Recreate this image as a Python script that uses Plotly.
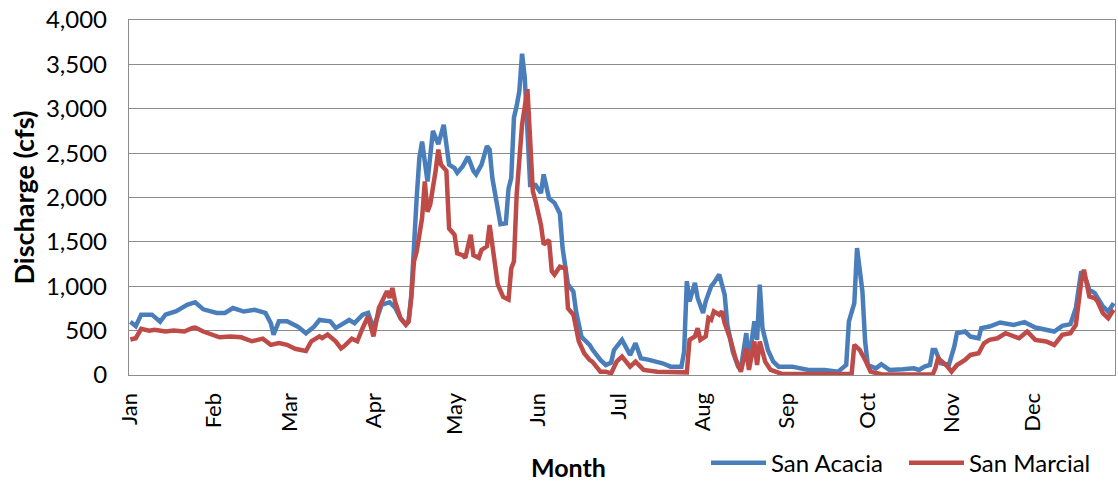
import pandas as pd
import plotly.graph_objects as go

# ---- data (day of year index, discharge cfs) ----
acacia_day = [0, 2, 4, 8, 11, 13, 17, 21, 24, 27, 32, 35, 38, 42, 46, 50, 52, 53, 55, 58,
              62, 65, 68, 70, 74, 76, 78, 81, 83, 86, 88, 90, 93, 96, 98, 100, 102, 103, 104, 105,
              106, 107, 108, 110, 112, 114, 116, 118, 120, 121, 123, 125, 127, 128, 130, 132, 133, 134, 136, 137,
              139, 140, 141, 142, 143, 144, 145, 146, 147, 148, 150, 152, 153, 155, 157, 159, 160, 161, 162, 164,
              165, 167, 170, 171, 174, 176, 178, 179, 182, 184, 185, 187, 189, 192, 197, 200, 204, 205, 206, 207,
              209, 210, 212, 213, 215, 216, 218, 220, 221, 223, 225, 226, 228, 229, 231, 232, 233, 234, 236, 238,
              240, 245, 251, 257, 262, 265, 266, 268, 269, 271, 272, 273, 276, 278, 281, 286, 290, 292, 294, 296,
              297, 298, 300, 303, 305, 306, 309, 311, 314, 315, 318, 322, 327, 331, 335, 342, 345, 348, 350, 352,
              354, 355, 357, 360, 362, 364]
acacia_cfs = [600, 550, 680, 680, 600, 680, 720, 790, 820, 740, 700, 700, 755, 715, 735, 700, 585, 455, 605, 605,
              545, 470, 545, 620, 605, 530, 565, 620, 585, 680, 700, 530, 790, 820, 760, 640, 570, 610, 900, 1500,
              2000, 2450, 2630, 2180, 2750, 2600, 2820, 2370, 2330, 2280, 2350, 2460, 2300, 2260, 2370, 2580, 2540, 2220, 1840, 1700,
              1710, 2100, 2220, 2900, 3030, 3200, 3620, 3350, 2750, 2140, 2140, 2050, 2260, 1990, 1940, 1820, 1430, 1240, 1020, 940,
              715, 430, 340, 290, 170, 113, 140, 280, 396, 283, 226, 358, 189, 170, 132, 94, 94, 264, 1057, 830,
              1038, 868, 698, 830, 1000, 1038, 1132, 906, 566, 264, 94, 75, 472, 151, 604, 396, 1019, 528, 283, 151,
              94, 94, 57, 57, 38, 113, 604, 810, 1430, 942, 377, 113, 75, 121, 57, 64, 75, 57, 94, 113,
              283, 283, 132, 113, 320, 471, 490, 433, 414, 528, 546, 592, 565, 595, 535, 490, 554, 573, 754, 1168,
              1055, 961, 923, 772, 716, 810]

marcial_day = [0, 2, 4, 7, 9, 13, 16, 20, 23, 24, 27, 30, 33, 37, 41, 45, 49, 52, 55, 58,
               61, 65, 67, 70, 71, 73, 76, 78, 79, 82, 84, 86, 88, 90, 92, 95, 96, 97, 98, 100,
               102, 103, 104, 105, 106, 108, 109, 110, 111, 113, 114, 115, 117, 118, 120, 121, 123, 124, 126, 127,
               129, 130, 132, 133, 134, 136, 138, 140, 141, 142, 143, 145, 147, 148, 149, 150, 152, 153, 155, 156,
               157, 159, 161, 162, 164, 166, 168, 170, 171, 173, 174, 176, 178, 180, 182, 185, 187, 190, 195, 206,
               207, 209, 210, 211, 213, 214, 215, 216, 218, 219, 220, 222, 224, 226, 228, 229, 231, 232, 233, 235,
               237, 241, 262, 264, 267, 268, 270, 272, 274, 278, 297, 298, 299, 302, 304, 306, 309, 311, 314, 316,
               318, 321, 324, 329, 332, 335, 339, 342, 345, 348, 350, 352, 353, 355, 357, 358, 360, 362, 364]
marcial_cfs = [400, 415, 520, 500, 510, 490, 500, 490, 530, 535, 490, 460, 425, 435, 425, 380, 410, 340, 360, 340,
               295, 270, 380, 435, 415, 455, 380, 300, 320, 410, 380, 530, 660, 435, 755, 945, 870, 980, 830, 640,
               565, 600, 870, 1280, 1390, 1770, 2180, 1840, 1920, 2300, 2540, 2370, 2300, 1650, 1580, 1370, 1350, 1320, 1580, 1350,
               1320, 1410, 1450, 1690, 1470, 1020, 880, 850, 1200, 1280, 2030, 2820, 3220, 2600, 2070, 1960, 1690, 1470, 1520, 1170,
               1130, 1220, 1200, 750, 680, 380, 245, 170, 150, 75, 38, 38, 19, 150, 208, 94, 151, 57, 38, 30,
               396, 434, 528, 396, 434, 642, 623, 717, 679, 717, 585, 415, 189, 38, 302, 57, 377, 113, 377, 151,
               57, 15, 15, 10, 10, 340, 283, 170, 38, 8, 5, 75, 188, 113, 38, 113, 170, 226, 245, 358,
               396, 414, 471, 414, 490, 396, 377, 339, 452, 471, 565, 1055, 1187, 885, 866, 829, 697, 640, 735]

month_starts = ["2021-01-01", "2021-02-01", "2021-03-01", "2021-04-01", "2021-05-01", "2021-06-01",
                "2021-07-01", "2021-08-01", "2021-09-01", "2021-10-01", "2021-11-01", "2021-12-01"]
month_labels = ["Jan", "Feb", "Mar", "Apr", "May", "Jun", "Jul", "Aug", "Sep", "Oct", "Nov", "Dec"]

base = pd.Timestamp("2021-01-01")
acacia_x = [base + pd.Timedelta(days=d) for d in acacia_day]
marcial_x = [base + pd.Timedelta(days=d) for d in marcial_day]

FONT = "Lato"
GRID = "#8c8c8c"

fig = go.Figure()
fig.add_trace(go.Scatter(x=acacia_x, y=acacia_cfs, mode="lines", name="San Acacia",
                         line=dict(color="#4A7EBB", width=4.5)))
fig.add_trace(go.Scatter(x=marcial_x, y=marcial_cfs, mode="lines", name="San Marcial",
                         line=dict(color="#BE4B48", width=4.5)))

fig.update_layout(
    width=1118, height=483,
    margin=dict(l=129, r=3, t=20, b=108, autoexpand=False),
    paper_bgcolor="white", plot_bgcolor="white",
    font=dict(family=FONT, size=23, color="black"),
    showlegend=True,
    legend=dict(orientation="h", xref="container", yref="container",
                x=0.6315, xanchor="left", y=0.041, yanchor="middle",
                itemwidth=55, entrywidth=128,
                font=dict(family=FONT, size=24, color="black"), bgcolor="rgba(0,0,0,0)"),
    annotations=[
        dict(text="<b>Discharge (cfs)</b>", xref="paper", yref="paper", x=-0.1075, y=0.5,
             xanchor="center", yanchor="middle", textangle=-90, showarrow=False,
             font=dict(family=FONT, size=27, color="black")),
        dict(text="<b>Month</b>", xref="paper", yref="paper", x=0.4462, y=-0.259,
             xanchor="center", yanchor="middle", showarrow=False,
             font=dict(family=FONT, size=25, color="black")),
    ],
)
fig.update_xaxes(
    range=["2020-12-31 12:00", "2021-12-31 12:00"],
    tickvals=month_starts, ticktext=month_labels, tickangle=-90,
    showgrid=False, showline=True, linecolor=GRID, linewidth=1.3, mirror=True,
    ticks="", ticklabelstandoff=8, zeroline=False, automargin=False,
    tickfont=dict(family=FONT, size=22, color="black"),
)
fig.update_yaxes(
    range=[0, 4000], dtick=500, tickformat=",",
    showgrid=True, gridcolor=GRID, gridwidth=1.3,
    showline=True, linecolor=GRID, linewidth=1.3, mirror=True,
    ticks="", ticklabelstandoff=16, zeroline=False, automargin=False,
    tickfont=dict(family=FONT, size=24, color="black"),
)

fig.write_html("out.html", config={"displayModeBar": False},
               post_script="document.body.style.margin='0';")
